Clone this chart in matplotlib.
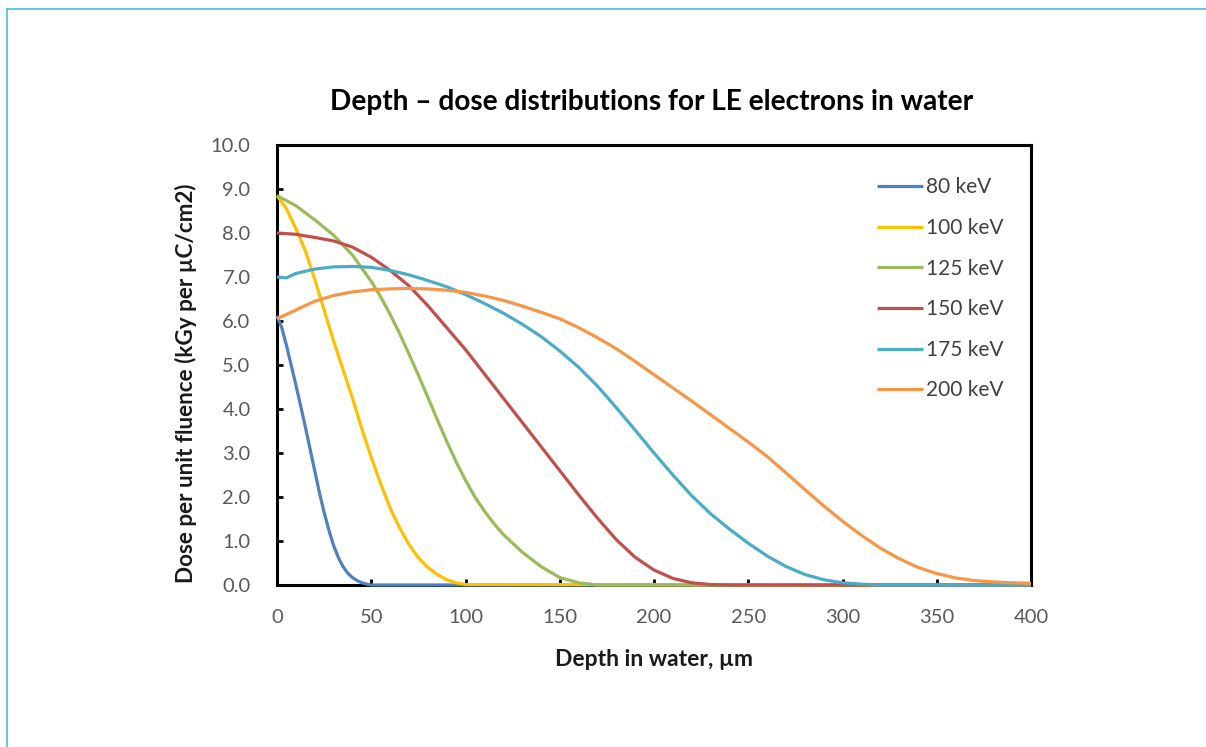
import matplotlib
matplotlib.use("Agg")
import matplotlib.pyplot as plt
from matplotlib.lines import Line2D

# ---- data ----
labels = ["80 keV", "100 keV", "125 keV", "150 keV", "175 keV", "200 keV"]
colors = ["#4F81BD", "#FFC000", "#9BBB59", "#C0504D", "#4BACC6", "#F79646"]

d80 = [0, 2.5, 5, 7.5, 10, 12.5, 15, 17.5, 20, 22.5, 25, 27.5, 30, 32.5, 35, 37.5, 40, 42.5, 45, 47.5, 50, 400]
v80 = [6.12, 5.85, 5.45, 5.0, 4.55, 4.08, 3.6, 3.1, 2.6, 2.1, 1.65, 1.25, 0.9, 0.63, 0.42, 0.27, 0.17, 0.1, 0.05, 0.02, 0.0, 0.0]

d100 = [0, 5, 10, 15, 20, 25, 30, 35, 40, 45, 50, 55, 60, 65, 70, 75, 80, 85, 90, 95, 100, 400]
v100 = [8.85, 8.55, 8.1, 7.6, 6.95, 6.25, 5.55, 4.9, 4.25, 3.55, 2.9, 2.3, 1.75, 1.3, 0.92, 0.62, 0.4, 0.24, 0.12, 0.05, 0.01, 0.0]

d125 = [0, 10, 20, 30, 40, 50, 55, 60, 65, 70, 75, 80, 85, 90, 95, 100, 105, 110, 115, 120, 130, 140, 150, 160, 170, 400]
v125 = [8.85, 8.62, 8.3, 7.95, 7.5, 6.9, 6.55, 6.15, 5.72, 5.25, 4.77, 4.27, 3.76, 3.27, 2.8, 2.38, 2.0, 1.68, 1.4, 1.15, 0.75, 0.42, 0.17, 0.05, 0.0, 0.0]

d150 = [0, 10, 20, 30, 40, 50, 60, 70, 80, 90, 100, 110, 120, 130, 140, 150, 160, 170, 180, 190, 200, 210, 220, 230, 240, 400]
v150 = [8.0, 7.97, 7.9, 7.82, 7.68, 7.45, 7.15, 6.8, 6.35, 5.85, 5.35, 4.8, 4.25, 3.7, 3.15, 2.6, 2.05, 1.52, 1.03, 0.63, 0.34, 0.15, 0.05, 0.01, 0.0, 0.0]

d175 = [0, 5, 10, 20, 30, 40, 50, 60, 70, 80, 90, 100, 110, 120, 130, 140, 150, 160, 170, 180, 190, 200, 210, 220, 230, 240, 250, 260, 270, 280, 290, 300, 310, 320, 400]
v175 = [7.0, 6.98, 7.08, 7.18, 7.23, 7.24, 7.22, 7.15, 7.05, 6.92, 6.78, 6.6, 6.4, 6.18, 5.93, 5.65, 5.32, 4.95, 4.52, 4.03, 3.52, 3.0, 2.5, 2.03, 1.62, 1.27, 0.95, 0.66, 0.42, 0.24, 0.12, 0.05, 0.02, 0.0, 0.0]

d200 = [0, 10, 20, 30, 40, 50, 60, 70, 80, 90, 100, 110, 120, 130, 140, 150, 160, 170, 180, 190, 200, 210, 220, 230, 240, 250, 260, 270, 280, 290, 300, 310, 320, 330, 340, 350, 360, 370, 380, 390, 400]
v200 = [6.05, 6.25, 6.45, 6.58, 6.66, 6.71, 6.73, 6.74, 6.73, 6.7, 6.65, 6.57, 6.47, 6.34, 6.2, 6.05, 5.85, 5.62, 5.37, 5.08, 4.78, 4.48, 4.18, 3.87, 3.56, 3.25, 2.92, 2.55, 2.17, 1.8, 1.45, 1.13, 0.84, 0.6, 0.4, 0.26, 0.16, 0.1, 0.07, 0.05, 0.04]

depths = [d80, d100, d125, d150, d175, d200]
values = [v80, v100, v125, v150, v175, v200]

xticks = [0, 50, 100, 150, 200, 250, 300, 350, 400]
yticks = [0, 1, 2, 3, 4, 5, 6, 7, 8, 9, 10]

title = "Depth \u2013 dose distributions for LE electrons in water"
xlabel = "Depth in water, \u00b5m"
ylabel = "Dose per unit fluence (kGy per \u00b5C/cm2)"

# ---- figure ----
plt.rcParams['font.family'] = ['Lato', 'DejaVu Sans']
fig = plt.figure(figsize=(12.06, 7.47), dpi=100)
ax = fig.add_axes([277/1206, 1-585/747, (1031-277)/1206, (585-145)/747])

for d, v, c, lab in zip(depths, values, colors, labels):
    ax.plot(d, v, color=c, lw=2.3, label=lab, clip_on=False, zorder=3,
            solid_capstyle='butt', solid_joinstyle='round')

ax.set_xlim(0, 400)
ax.set_ylim(0, 10)
ax.set_xticks(xticks)
ax.set_yticks(yticks)
ax.set_yticklabels([f"{t:.1f}" for t in yticks])
ax.set_xticklabels([str(t) for t in xticks])
ax.tick_params(direction='in', length=4, width=2, color='black',
               labelsize=14.5, labelcolor='#595959')
ax.tick_params(axis='y', pad=19)
ax.tick_params(axis='x', pad=17)
for s in ax.spines.values():
    s.set_linewidth(2.2)
    s.set_color('black')

ax.set_xlabel(xlabel, fontsize=16.5, fontweight='bold', color='#1a1a1a')
ax.set_ylabel(ylabel, fontsize=16.2, fontweight='bold', color='#1a1a1a')
ax.xaxis.set_label_coords(0.5, -(649 - 585) / 440)
ax.yaxis.set_label_coords(-(277 - 197) / 754, (585 - 383) / 440)
fig.text(652/1206, 1-102/747, title, fontsize=20.2, fontweight='bold',
         ha='center', va='center', color='black')

leg = ax.legend(loc='upper right', bbox_to_anchor=(1012/1206, 1-169/747),
                bbox_transform=fig.transFigure, frameon=False, fontsize=15,
                handlelength=2.2, handletextpad=0.15, labelspacing=0.99,
                borderaxespad=0)
for t in leg.get_texts():
    t.set_color('#404040')

# figure border (top and left)
bc = '#5BC0E6'
fig.add_artist(Line2D([7/1206, 1], [1-9/747, 1-9/747], transform=fig.transFigure, color=bc, lw=1.3))
fig.add_artist(Line2D([7/1206, 7/1206], [0, 1-9/747], transform=fig.transFigure, color=bc, lw=1.3))

fig.savefig("out.png", dpi=100)
